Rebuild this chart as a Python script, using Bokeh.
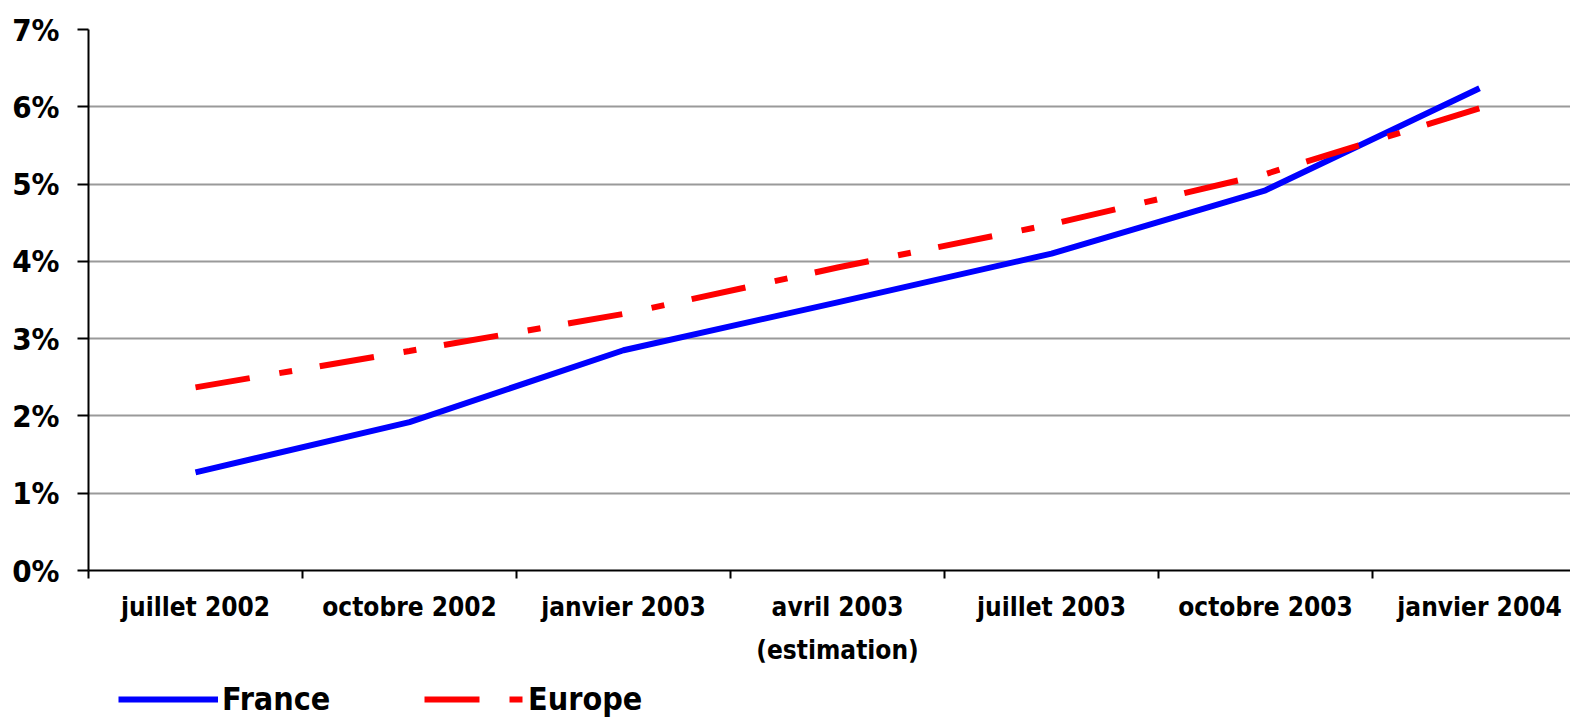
from bokeh.plotting import figure
from bokeh.models import Range1d, FixedTicker, PrintfTickFormatter, Legend, LegendItem
from bokeh.layouts import column
from bokeh.embed import file_html
from bokeh.resources import INLINE

categories = ["juillet 2002", "octobre 2002", "janvier 2003", "avril 2003\n(estimation)",
              "juillet 2003", "octobre 2003", "janvier 2004"]
france = [1.27, 1.92, 2.85, 3.47, 4.10, 4.92, 6.24]
europe = [2.37, 2.84, 3.32, 3.92, 4.48, 5.13, 5.98]
y_ticks = [0, 1, 2, 3, 4, 5, 6, 7]
series_names = ["France", "Europe"]

FONT = "Liberation Sans Narrow, DejaVu Sans Condensed, Arial Narrow, sans-serif"
BLUE = "#0000FF"
RED = "#FF0000"
DASH = "55 30 13 28"

xs = list(range(len(categories)))

p = figure(frame_width=1482, frame_height=541, output_backend="svg", toolbar_location=None,
           x_range=Range1d(-0.5, 6.425), y_range=Range1d(0, 7),
           min_border_left=88, min_border_top=29, min_border_right=0, min_border_bottom=110)
p.outline_line_color = None
p.background_fill_color = "white"
p.border_fill_color = "white"

# x axis
p.xaxis.ticker = FixedTicker(ticks=xs, minor_ticks=[i - 0.5 for i in range(len(categories) + 1)])
p.xaxis.major_label_overrides = {i: c for i, c in enumerate(categories)}
p.xaxis.major_tick_line_color = None
p.xaxis.major_tick_out = 0
p.xaxis.major_tick_in = 0
p.xaxis.minor_tick_line_color = "black"
p.xaxis.minor_tick_line_width = 2
p.xaxis.minor_tick_out = 8
p.xaxis.minor_tick_in = 0
p.xaxis.axis_line_color = "black"
p.xaxis.axis_line_width = 2
p.xaxis.major_label_text_font = FONT
p.xaxis.major_label_text_font_style = "bold"
p.xaxis.major_label_text_font_size = "26px"
p.xaxis.major_label_text_color = "black"
p.xaxis.major_label_standoff = 13
p.xaxis.major_label_text_line_height = 1.45

# y axis
p.yaxis.ticker = FixedTicker(ticks=y_ticks)
p.yaxis.formatter = PrintfTickFormatter(format="%d%%")
p.yaxis.minor_tick_line_color = None
p.yaxis.major_tick_line_color = "black"
p.yaxis.major_tick_line_width = 2
p.yaxis.major_tick_out = 11
p.yaxis.major_tick_in = 0
p.yaxis.axis_line_color = "black"
p.yaxis.axis_line_width = 2
p.yaxis.major_label_text_font = FONT
p.yaxis.major_label_text_font_style = "bold"
p.yaxis.major_label_text_font_size = "31px"
p.yaxis.major_label_text_color = "black"
p.yaxis.major_label_standoff = 18

p.xgrid.grid_line_color = None
p.ygrid.ticker = FixedTicker(ticks=y_ticks)
p.ygrid.grid_line_color = "#9a9a9a"
p.ygrid.grid_line_width = 2

p.line(xs, france, line_color=BLUE, line_width=6, line_join="round")
p.line(xs, europe, line_color=RED, line_width=6, line_dash=DASH)

# legend strip below the chart (its own ranges keep the sample lines out of view)
pl = figure(width=1570, height=38, output_backend="svg", toolbar_location=None,
            x_range=Range1d(100, 101), y_range=Range1d(100, 101),
            x_axis_type=None, y_axis_type=None, min_border=0)
pl.outline_line_color = None
pl.xgrid.grid_line_color = None
pl.ygrid.grid_line_color = None
s_fr = pl.line(xs, france, line_color=BLUE, line_width=6)
s_eu = pl.line(xs, europe, line_color=RED, line_width=6, line_dash=DASH)

legend = Legend(items=[LegendItem(label=series_names[0], renderers=[s_fr]),
                       LegendItem(label=series_names[1], renderers=[s_eu])],
                orientation="horizontal", location="center_left")
legend.label_text_font = FONT
legend.label_text_font_style = "bold"
legend.label_text_font_size = "32px"
legend.label_text_color = "black"
legend.glyph_width = 100
legend.glyph_height = 30
legend.label_standoff = 4
legend.label_width = 110
legend.spacing = 92
legend.margin = 30
legend.padding = 0
legend.border_line_color = None
legend.background_fill_alpha = 0
pl.add_layout(legend, "center")

open("out.html", "w").write(file_html(column(p, pl, spacing=0), INLINE))
